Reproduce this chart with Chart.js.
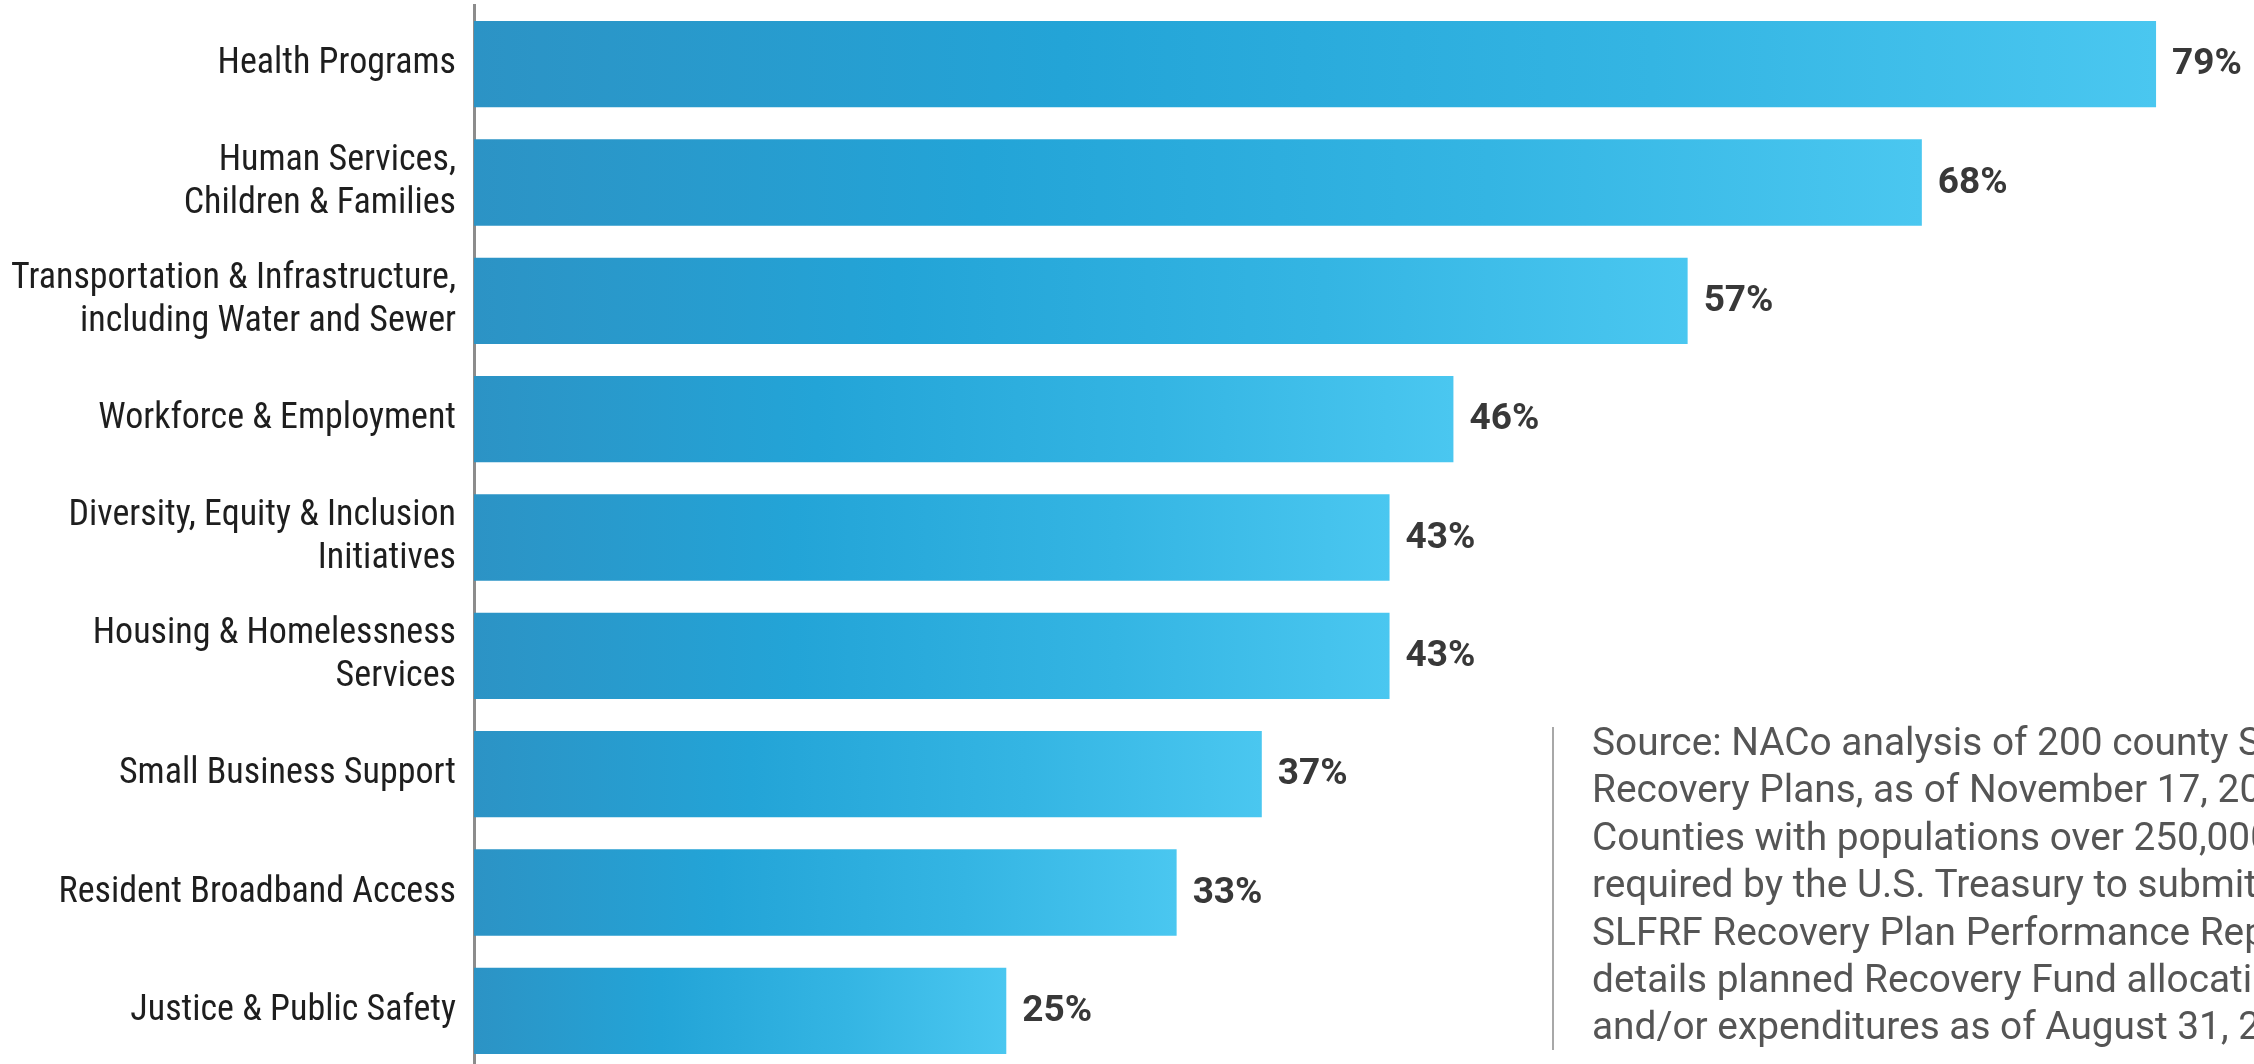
<!DOCTYPE html>
<html>
<head>
<meta charset="utf-8">
<script src="https://cdn.jsdelivr.net/npm/chart.js@4/dist/chart.umd.min.js"></script>
<style>
  body { margin: 0; background: #fff; overflow: hidden; width: 2254px; height: 1064px; position: relative; }
  #chart { position: absolute; left: 0; top: 0; }
  .source-rule { position: absolute; left: 1552px; top: 727px; width: 2px; height: 323px; background: #a8a8a8; }
  .source-text {
    position: absolute; left: 1592px; top: 718px; white-space: nowrap;
    font-family: Roboto, "Liberation Sans", sans-serif; font-size: 38.8px; line-height: 47.4px; color: #555;
  }
</style>
</head>
<body>
<canvas id="chart" width="2254" height="1070"></canvas>
<div class="source-rule"></div>
<div class="source-text">
  Source: NACo analysis of 200 county SLFRF<br>
  Recovery Plans, as of November 17, 2021.<br>
  Counties with populations over 250,000 are<br>
  required by the U.S. Treasury to submit a<br>
  SLFRF Recovery Plan Performance Report that<br>
  details planned Recovery Fund allocations<br>
  and/or expenditures as of August 31, 2021.
</div>
<script>
// Categories (multi-line labels as arrays)
var categories = [
    ['Health Programs'],
    ['Human Services,', 'Children & Families'],
    ['Transportation & Infrastructure,', 'including Water and Sewer'],
    ['Workforce & Employment'],
    ['Diversity, Equity & Inclusion', 'Initiatives'],
    ['Housing & Homelessness', 'Services'],
    ['Small Business Support'],
    ['Resident Broadband Access'],
    ['Justice & Public Safety']
];

// Share of counties (%)
var shares = [79, 68, 57, 46, 43, 43, 37, 33, 25];

/* Gradient fill from bar start to bar end */
function barFill(context) {
    var chart = context.chart;
    if (!chart.chartArea || !chart.scales.x) return '#28a3d5';
    var x = chart.scales.x;
    var x0 = x.getPixelForValue(0);
    var x1 = x.getPixelForValue(context.raw);
    var g = chart.ctx.createLinearGradient(x0, 0, x1, 0);
    g.addColorStop(0, '#2c93c5');
    g.addColorStop(0.35, '#23a4d7');
    g.addColorStop(0.7, '#34b5e3');
    g.addColorStop(1, '#4ac7f0');
    return g;
}

/* Draw the % value at the end of each bar */
var valueLabels = {
    id: 'valueLabels',
    afterDatasetsDraw: function(chart) {
        var ctx = chart.ctx;
        var meta = chart.getDatasetMeta(0);
        ctx.save();
        ctx.font = 'bold 37px Roboto, "Liberation Sans", sans-serif';
        ctx.fillStyle = '#383838';
        ctx.textAlign = 'left';
        ctx.textBaseline = 'middle';
        meta.data.forEach(function(bar, i) {
            ctx.fillText(shares[i] + '%', bar.x + 16, bar.y + 1);
        });
        ctx.restore();
    }
};

var ctx = document.getElementById('chart').getContext('2d');
var chart = new Chart(ctx, {
    type: 'bar',
    data: {
        labels: categories,
        datasets: [{
            data: shares,
            backgroundColor: barFill,
            borderWidth: 0,
            barPercentage: 1,
            categoryPercentage: 0.73
        }]
    },
    options: {
        indexAxis: 'y',
        responsive: false,
        animation: false,
        layout: { padding: { top: 5, right: 0, bottom: 0, left: 0 } },
        plugins: {
            legend: { display: false },
            tooltip: { enabled: false }
        },
        scales: {
            x: {
                display: false,
                min: 0,
                max: 83.6
            },
            y: {
                afterFit: function(scale) {
                    scale.width = 474;
                    scale.paddingTop = 0;
                    scale.paddingBottom = 0;
                },
                grid: { display: false, drawTicks: false },
                border: { display: true, color: '#8c8c8c', width: 3 },
                ticks: {
                    padding: 18,
                    color: '#1e1e1e',
                    font: { family: '"Roboto Condensed", Roboto, sans-serif', size: 36, lineHeight: 1.2 }
                }
            }
        }
    },
    plugins: [valueLabels]
});
</script>
</body>
</html>
